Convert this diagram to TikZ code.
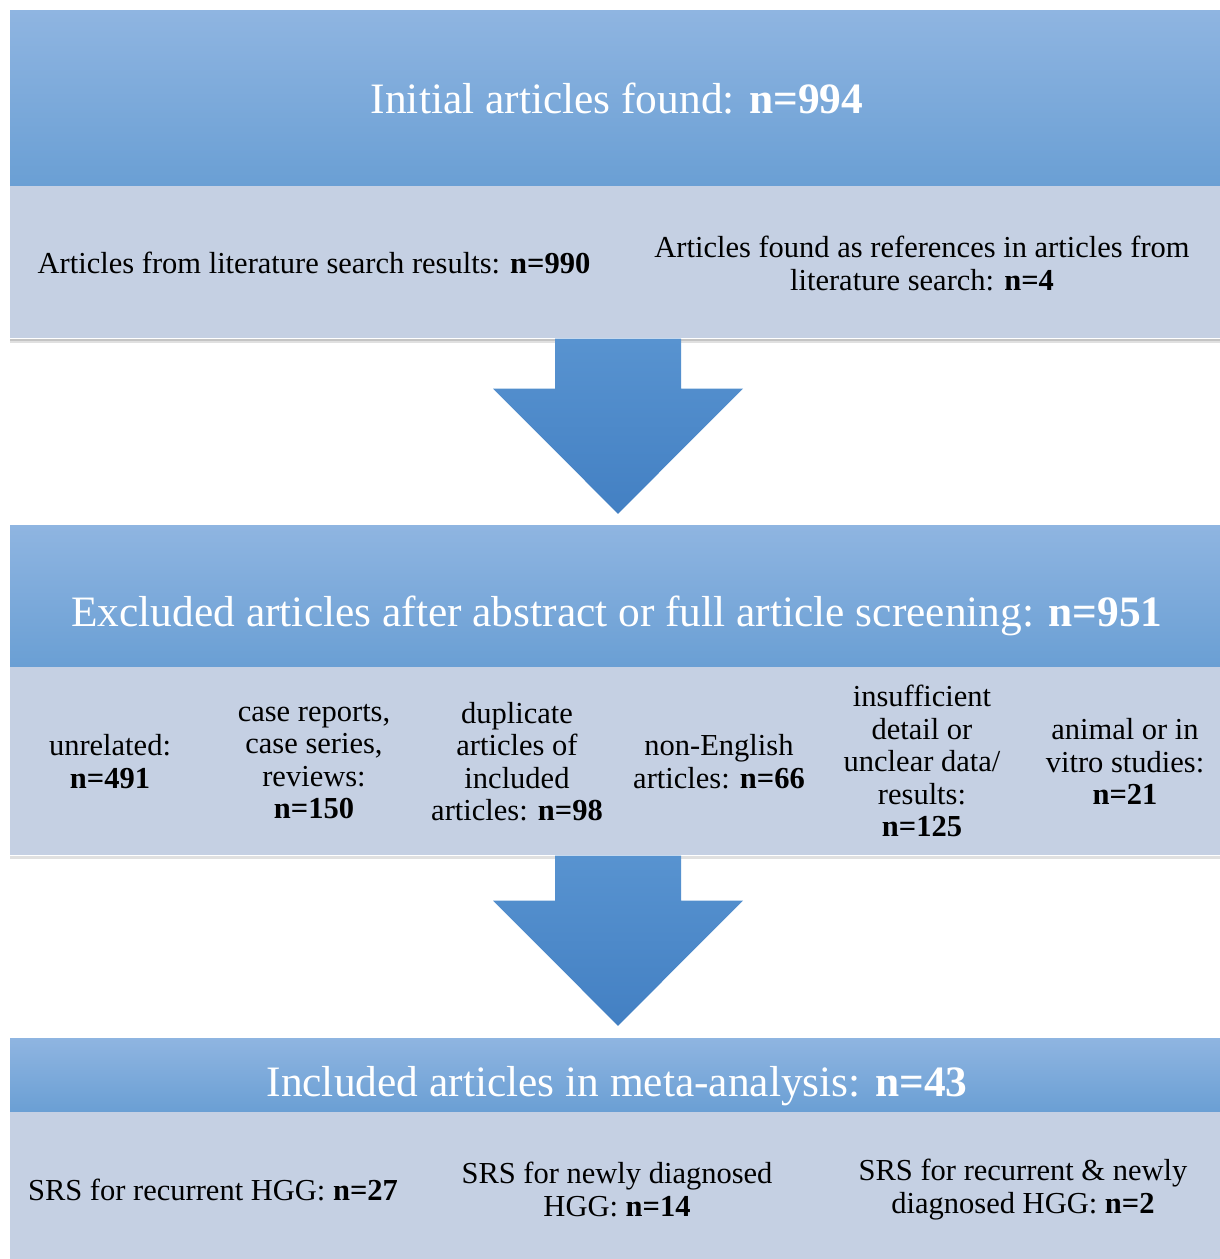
\documentclass[tikz,border=0pt]{standalone}
\usepackage{fontspec}
\setmainfont{Liberation Serif}
\usetikzlibrary{calc}
\definecolor{bantop}{HTML}{8FB5E1}
\definecolor{banbot}{HTML}{6A9FD4}
\definecolor{boxfill}{HTML}{C5D0E3}
\definecolor{arrtop}{HTML}{5893D0}
\definecolor{arrbot}{HTML}{4380C3}
\begin{document}
\begin{tikzpicture}[x=1pt,y=-1pt,
  banner/.style={rectangle, inner sep=0pt, minimum width=1210pt, top color=bantop, bottom color=banbot, draw=none},
  lbox/.style={rectangle, inner sep=0pt, minimum width=1210pt, fill=boxfill, draw=none},
  title/.style={anchor=base, text=white, font=\fontsize{43.4}{48}\selectfont, inner sep=0pt},
  txt/.style={align=center, text=black, font=\fontsize{30.5}{32.5}\selectfont, inner sep=0pt},
  bigarrow/.style={top color=arrtop, bottom color=arrbot, draw=none},
  shadowsty/.style={fill=black, opacity=0.12}
]
\useasboundingbox (0,0) rectangle (1220,1259);
\fill[white] (0,0) rectangle (1220,1259);

% --- section 1
\node[banner, minimum height=176pt] (b1) at (615,98) {};
\node[lbox, minimum height=152pt, anchor=north] (l1) at (b1.south) {};
\fill[shadowsty] ($(l1.south west)$) rectangle ($(l1.south east)+(0,4)$);
\fill[shadowsty] ($(l1.south west)$) rectangle ($(l1.south east)+(0,2)$);
\node[title] (t1) at (617,113) {Initial articles found: \textbf{n=994}};
\node[txt] (s1a) at (314,263) {Articles from literature search results: \textbf{n=990}};
\node[txt] (s1b) at (922,263.5) {Articles found as references in articles from\\literature search: \textbf{n=4}};

% --- section 2
\node[banner, minimum height=142pt] (b2) at (615,596) {};
\node[lbox, minimum height=188pt, anchor=north] (l2) at (b2.south) {};
\fill[shadowsty] ($(l2.south west)$) rectangle ($(l2.south east)+(0,3)$);
\node[title] (t2) at (617,626) {Excluded articles after abstract or full article screening: \textbf{n=951}};
\node[txt] (e1) at (110,761.5) {unrelated:\\\textbf{n=491}};
\node[txt] (e2) at (314,761.5) {case reports,\\case series,\\reviews:\\\textbf{n=150}};
\node[txt] (e3) at (517,761.5) {duplicate\\articles of\\included\\articles: \textbf{n=98}};
\node[txt] (e4) at (719,761.5) {non-English\\articles: \textbf{n=66}};
\node[txt] (e5) at (922,761) {insufficient\\detail or\\unclear data/\\results:\\\textbf{n=125}};
\node[txt] (e6) at (1125,761.5) {animal or in\\vitro studies:\\\textbf{n=21}};

% --- section 3
\node[banner, minimum height=74pt] (b3) at (615,1075) {};
\node[lbox, minimum height=147pt, anchor=north] (l3) at (b3.south) {};
\node[title] (t3) at (617,1096) {Included articles in meta-analysis: \textbf{n=43}};
\node[txt] (r1) at (213,1190) {SRS for recurrent HGG: \textbf{n=27}};
\node[txt] (r2) at (617,1189.5) {SRS for newly diagnosed\\HGG: \textbf{n=14}};
\node[txt] (r3) at (1023,1189.5) {SRS for recurrent \& newly\\diagnosed HGG: \textbf{n=2}};

% --- arrows
\coordinate (a1s) at ($(l1.south)+(3,0)$);
\coordinate (a1t) at ($(b2.north)+(3,-11)$);
\shade[bigarrow] ($(a1s)+(-63,0)$) -- ($(a1s)+(63,0)$) -- ($(a1s)+(63,50)$) -- ($(a1s)+(125,50)$)
  -- (a1t) -- ($(a1s)+(-125,50)$) -- ($(a1s)+(-63,50)$) -- cycle;
\coordinate (a2s) at ($(l2.south)+(3,0)$);
\coordinate (a2t) at ($(b3.north)+(3,-12)$);
\shade[bigarrow] ($(a2s)+(-63,0)$) -- ($(a2s)+(63,0)$) -- ($(a2s)+(63,45)$) -- ($(a2s)+(125,45)$)
  -- (a2t) -- ($(a2s)+(-125,45)$) -- ($(a2s)+(-63,45)$) -- cycle;
\end{tikzpicture}
\end{document}
